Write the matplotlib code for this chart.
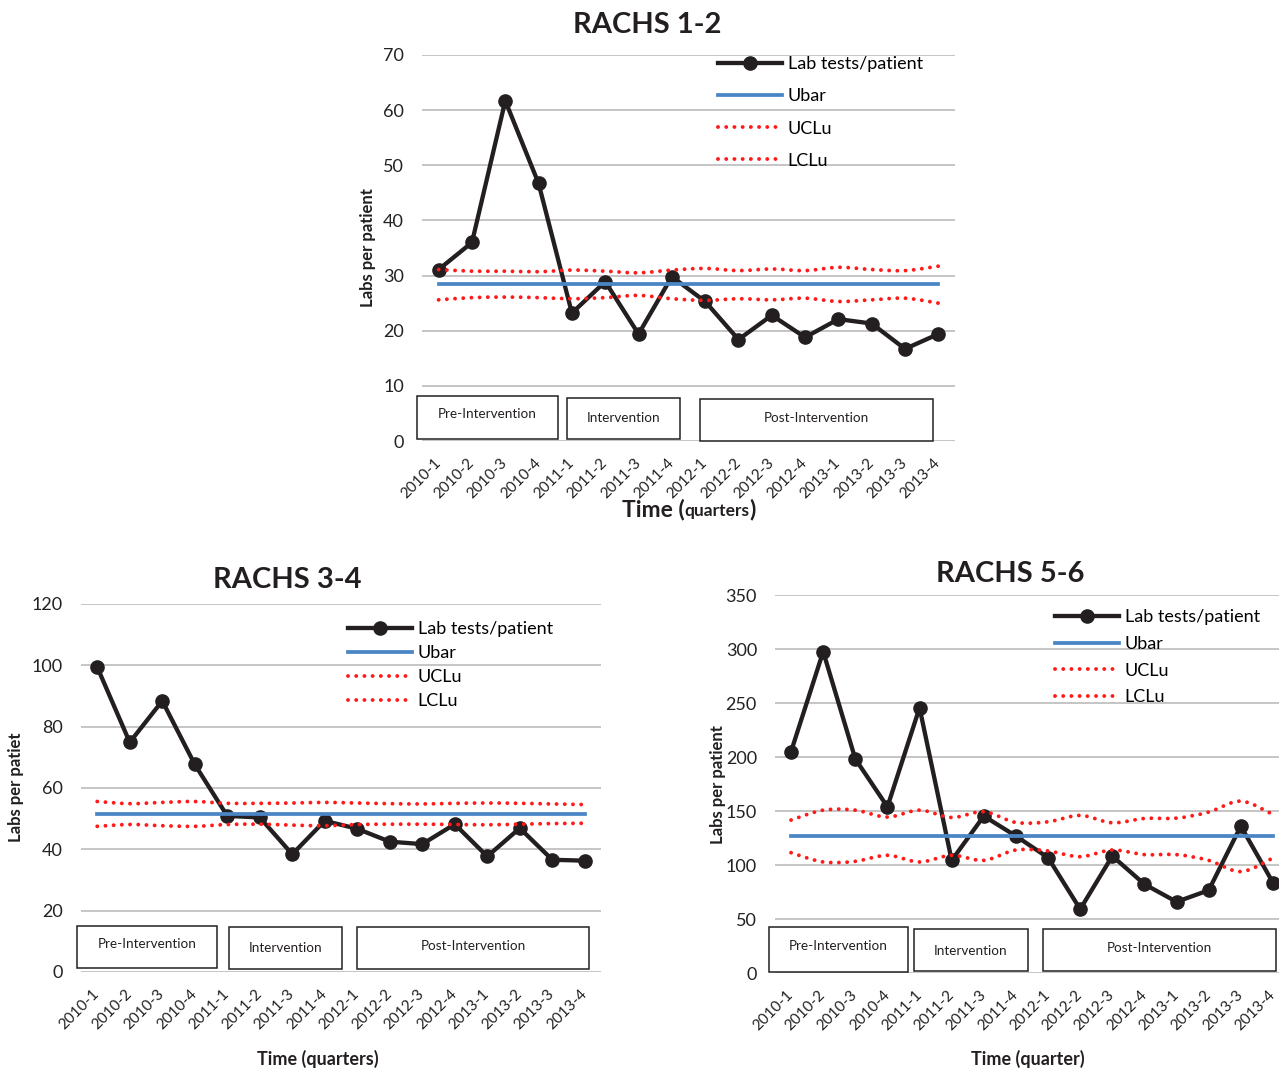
import matplotlib.pyplot as plt
from matplotlib.lines import Line2D
from matplotlib.offsetbox import AnnotationBbox, HPacker, TextArea
from matplotlib.patches import PathPatch, Rectangle
from matplotlib.path import Path

plt.rcParams["font.family"] = ["Lato", "DejaVu Sans"]

quarters = ["2010-1", "2010-2", "2010-3", "2010-4", "2011-1", "2011-2", "2011-3", "2011-4",
            "2012-1", "2012-2", "2012-3", "2012-4", "2013-1", "2013-2", "2013-3", "2013-4"]

# RACHS 1-2
r12_labs = [31.1, 36.0, 61.7, 46.7, 23.2, 28.9, 19.4, 29.8, 25.3, 18.4, 22.8, 18.8, 22.1, 21.3, 16.7, 19.4]
r12_ubar = 28.4
r12_ucl = [31.1, 30.8, 30.8, 30.7, 31.0, 30.8, 30.5, 31.0, 31.3, 30.9, 31.2, 30.9, 31.5, 31.1, 30.9, 31.7]
r12_lcl = [25.6, 26.0, 26.1, 26.0, 25.8, 26.0, 26.4, 25.8, 25.5, 25.8, 25.6, 25.9, 25.3, 25.6, 25.9, 25.0]

# RACHS 3-4
r34_labs = [99.4, 74.9, 88.4, 67.7, 50.9, 50.4, 38.4, 49.3, 46.7, 42.5, 41.7, 48.2, 37.7, 46.9, 36.6, 36.3]
r34_ubar = 51.6
r34_ucl = [55.6, 54.9, 55.3, 55.6, 55.0, 55.0, 55.1, 55.3, 55.1, 54.9, 54.8, 55.0, 55.1, 55.0, 54.8, 54.6]
r34_lcl = [47.5, 48.1, 47.7, 47.5, 48.1, 48.2, 47.9, 47.7, 48.1, 48.2, 48.2, 48.1, 48.0, 48.2, 48.4, 48.5]

# RACHS 5-6
r56_labs = [205, 297.6, 198.2, 153.9, 245.6, 104.3, 145.3, 126.8, 106.8, 59.1, 108.3, 82.2, 65.9, 76.6, 136, 83.7]
r56_ubar = 126.8
r56_ucl = [141.6, 150.8, 150.8, 144.4, 150.8, 144.0, 149.3, 139.4, 140.0, 145.9, 139.1, 143.1, 143.4, 149.0, 159.1, 146.8]
r56_lcl = [111.4, 102.8, 103.4, 109.0, 102.8, 109.0, 104.3, 113.9, 113.0, 107.7, 113.9, 109.6, 109.6, 104.3, 93.9, 106.5]

phases = ["Pre-Intervention", "Intervention", "Post-Intervention"]
series_names = ["Lab tests/patient", "Ubar", "UCLu", "LCLu"]

BLACK = "#231f20"
BLUE = "#4a86c5"
RED = "#ff1a1a"
GRID = "#c0c0c0"
DOT = (0, (0.01, 2.1))
DOT_LW = 2.8

W, H = 1279, 1069
fig = plt.figure(figsize=(W / 100, H / 100), dpi=100)


def fx(x):
    return x / W


def fy(y):
    return 1 - y / H


def smooth_path(xs, ys):
    # excel-like smoothed line drawn as cubic bezier segments
    pts = list(zip(xs, ys))
    verts, codes = [pts[0]], [Path.MOVETO]
    n = len(pts)
    for i in range(n - 1):
        p0, p1, p2, p3 = pts[max(i - 1, 0)], pts[i], pts[i + 1], pts[min(i + 2, n - 1)]
        c1 = (p1[0] + (p2[0] - p0[0]) / 6, p1[1] + (p2[1] - p0[1]) / 6)
        c2 = (p2[0] - (p3[0] - p1[0]) / 6, p2[1] - (p3[1] - p1[1]) / 6)
        verts += [c1, c2, p2]
        codes += [Path.CURVE4] * 3
    return Path(verts, codes)


def panel(box, labs, ubar, ucl, lcl, ymax, ystep, legend_xy, labelspacing):
    x0, y0, x1, y1 = box
    ax = fig.add_axes([fx(x0), fy(y1), (x1 - x0) / W, (y1 - y0) / H])
    x = list(range(len(quarters)))
    ax.plot(x, labs, color=BLACK, lw=3.1, marker="o", ms=9.5, zorder=2, clip_on=False)
    ax.plot(x, [ubar] * len(x), color=BLUE, lw=2.7, zorder=3)
    for lim in (ucl, lcl):
        ax.add_patch(PathPatch(smooth_path(x, lim), fill=False, edgecolor=RED, lw=DOT_LW,
                               linestyle=DOT, capstyle="round", zorder=4))
    ax.set_xlim(-0.5, 15.5)
    ax.set_ylim(0, ymax)
    ax.set_yticks(range(0, ymax + 1, ystep))
    ax.set_xticks(x)
    ax.set_xticklabels(quarters, rotation=45, ha="right", va="center", rotation_mode="anchor")
    ax.grid(axis="y", color=GRID, lw=1.3)
    ax.set_axisbelow(True)
    for s in ax.spines.values():
        s.set_visible(False)
    ax.tick_params(axis="y", length=0, pad=13, labelsize=13, labelcolor="#222222")
    ax.tick_params(axis="x", length=0, pad=14, labelsize=11, labelcolor="#222222")

    handles = [
        Line2D([], [], color=BLACK, lw=3.1, marker="o", ms=9.5),
        Line2D([], [], color=BLUE, lw=2.7),
        Line2D([], [], color=RED, lw=DOT_LW, linestyle=DOT, dash_capstyle="round"),
        Line2D([], [], color=RED, lw=DOT_LW, linestyle=DOT, dash_capstyle="round"),
    ]
    ax.legend(handles, series_names, loc="upper left", bbox_to_anchor=(fx(legend_xy[0]), fy(legend_xy[1])),
              bbox_transform=fig.transFigure, frameon=False, fontsize=13, handlelength=3.55,
              handletextpad=0.3, labelspacing=labelspacing, borderpad=0, borderaxespad=0)
    return ax


def phase_boxes(boxes):
    for (x0, y0, x1, y1, ty), name in zip(boxes, phases):
        fig.patches.append(Rectangle((fx(x0), fy(y1)), (x1 - x0) / W, (y1 - y0) / H,
                                     transform=fig.transFigure, facecolor="white",
                                     edgecolor=BLACK, lw=1.1, zorder=5))
        fig.text(fx((x0 + x1) / 2), fy(ty), name, ha="center", va="center", fontsize=9.7,
                 color=BLACK, zorder=6)


# top panel
panel((422, 55, 955, 441), r12_labs, r12_ubar, r12_ucl, r12_lcl, 70, 10, (718, 56), 0.9)
phase_boxes([(417, 396, 558, 439, 414), (567, 398, 680, 439, 418), (700, 399, 933, 441, 418)])
fig.text(fx(647), fy(25), "RACHS 1-2", ha="center", va="center", fontsize=21, fontweight="bold", color=BLACK)
fig.text(fx(368), fy(248), "Labs per patient", ha="center", va="center", rotation=90,
         fontsize=12, fontweight="bold", color=BLACK)
xlabel = HPacker(children=[
    TextArea("Time (", textprops=dict(fontsize=16.5, fontweight="bold", color=BLACK)),
    TextArea("quarters", textprops=dict(fontsize=12.5, fontweight="bold", color=BLACK)),
    TextArea(")", textprops=dict(fontsize=16.5, fontweight="bold", color=BLACK)),
], align="baseline", pad=0, sep=0)
fig.add_artist(AnnotationBbox(xlabel, (fx(689), fy(509)), xycoords="figure fraction", frameon=False,
                              box_alignment=(0.5, 0.5)))

# bottom left panel
panel((81, 604, 601, 972), r34_labs, r34_ubar, r34_ucl, r34_lcl, 120, 20, (348, 621), 0.45)
phase_boxes([(77, 926, 217, 968, 944), (229, 927, 342, 969, 948), (357, 927, 589, 969, 946)])
fig.text(fx(287), fy(580), "RACHS 3-4", ha="center", va="center", fontsize=21, fontweight="bold", color=BLACK)
fig.text(fx(16), fy(787), "Labs per patiet", ha="center", va="center", rotation=90,
         fontsize=12, fontweight="bold", color=BLACK)
fig.text(fx(318), fy(1059), "Time (quarters)", ha="center", va="center", fontsize=13,
         fontweight="bold", color=BLACK)

# bottom right panel
panel((775, 595, 1289, 973), r56_labs, r56_ubar, r56_ucl, r56_lcl, 350, 50, (1055, 609), 0.6)
phase_boxes([(769, 927, 908, 972, 946), (914, 929, 1028, 971, 951), (1043, 929, 1276, 971, 948)])
fig.text(fx(1010), fy(574), "RACHS 5-6", ha="center", va="center", fontsize=21, fontweight="bold", color=BLACK)
fig.text(fx(718), fy(785), "Labs per patient", ha="center", va="center", rotation=90,
         fontsize=12, fontweight="bold", color=BLACK)
fig.text(fx(1028), fy(1059), "Time (quarter)", ha="center", va="center", fontsize=13,
         fontweight="bold", color=BLACK)

fig.savefig("out.png", dpi=100, facecolor="white")
